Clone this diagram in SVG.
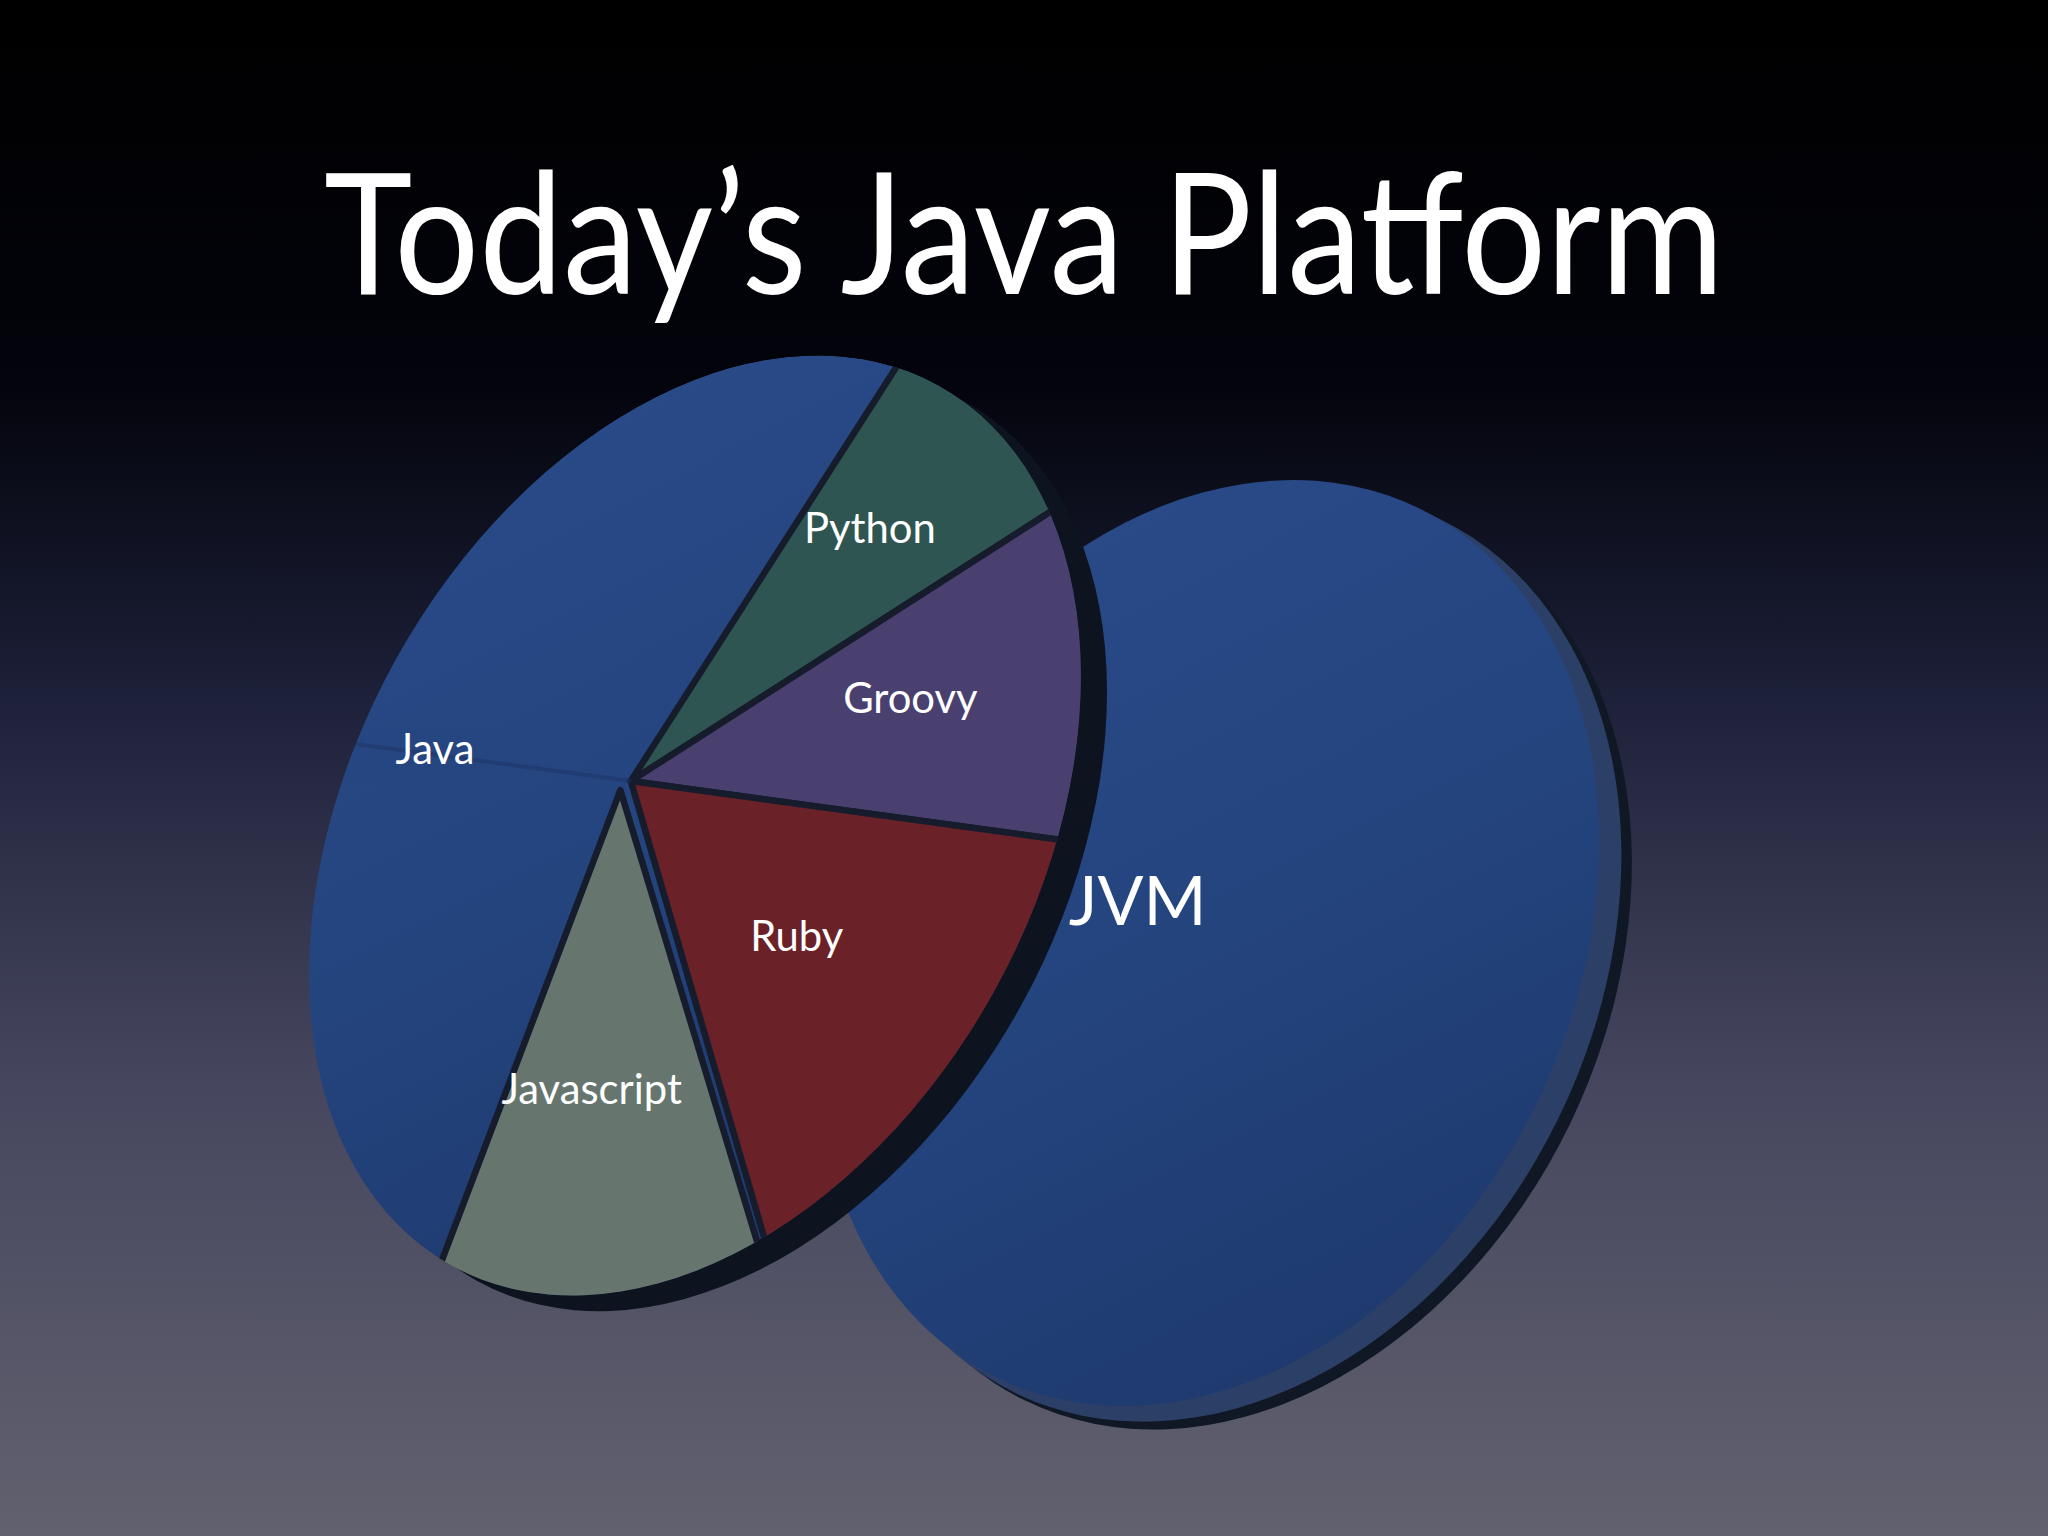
<svg xmlns="http://www.w3.org/2000/svg" width="2048" height="1536" viewBox="0 0 2048 1536">
<defs>
<linearGradient id="bg" x1="0" y1="0" x2="0" y2="1">
<stop offset="0" stop-color="#000000"/>
<stop offset="0.25" stop-color="#03040c"/>
<stop offset="0.45" stop-color="#1c2038"/>
<stop offset="0.7" stop-color="#45465e"/>
<stop offset="1" stop-color="#62616f"/>
</linearGradient>
<linearGradient id="blue" x1="0" y1="0" x2="1" y2="1">
<stop offset="0" stop-color="#2a4c8a"/>
<stop offset="0.5" stop-color="#24447e"/>
<stop offset="1" stop-color="#1c3668"/>
</linearGradient>
<clipPath id="pieClip">
<ellipse cx="0" cy="0" rx="262" ry="385" transform="translate(532 632) rotate(29)"/>
</clipPath>
<style>
.lbl{font-family:"Lato","Liberation Sans",sans-serif;fill:#ffffff;text-anchor:middle}
.wedge{stroke:#161c2c;stroke-width:5;stroke-linejoin:round}
</style>
</defs>
<rect width="2048" height="1536" fill="url(#bg)"/>
<text x="1024" y="294" font-family="Lato,'Liberation Sans',sans-serif" font-size="168" fill="#ffffff" text-anchor="middle" textLength="1400" lengthAdjust="spacingAndGlyphs">Today’s Java Platform</text>
<g transform="scale(1.30612)">
<g id="jvm">
<ellipse cx="0" cy="0" rx="282" ry="372" transform="translate(948 738) rotate(26)" fill="#101826"/>
<ellipse cx="0" cy="0" rx="282" ry="372" transform="translate(940 732) rotate(26)" fill="#2c3f66"/>
<ellipse cx="0" cy="0" rx="280" ry="370" transform="translate(925 722) rotate(26)" fill="url(#blue)"/>
</g>
<g id="pie">
<ellipse cx="0" cy="0" rx="262" ry="385" transform="translate(552 644) rotate(29)" fill="#0e1320"/>
<g clip-path="url(#pieClip)">
<ellipse cx="0" cy="0" rx="262" ry="385" transform="translate(532 632) rotate(29)" fill="url(#blue)"/>
<polygon class="wedge" points="483,598 1089,-347 1488,-47" fill="#2e5552"/>
<polygon class="wedge" points="483,598 1488,-47 1404,724" fill="#4a4070"/>
<polygon class="wedge" points="483,598 1404,724 759,1543" fill="#6a2228"/>
<polygon class="wedge" points="475,605 759,1543 54,1714" fill="#66766f"/>
<line x1="483" y1="598" x2="200" y2="560" stroke="#1d3466" stroke-width="3" opacity="0.5"/>
</g>
<text class="lbl" x="666" y="416" font-size="32">Python</text>
<text class="lbl" x="697" y="546" font-size="32">Groovy</text>
<text class="lbl" x="333" y="585" font-size="32">Java</text>
<text class="lbl" x="610" y="728" font-size="32">Ruby</text>
<text class="lbl" x="453" y="845" font-size="32">Javascript</text>
</g>
<g id="jvm-label">
<text class="lbl" x="871" y="708" font-size="52">JVM</text>
</g>
</g>
</svg>
